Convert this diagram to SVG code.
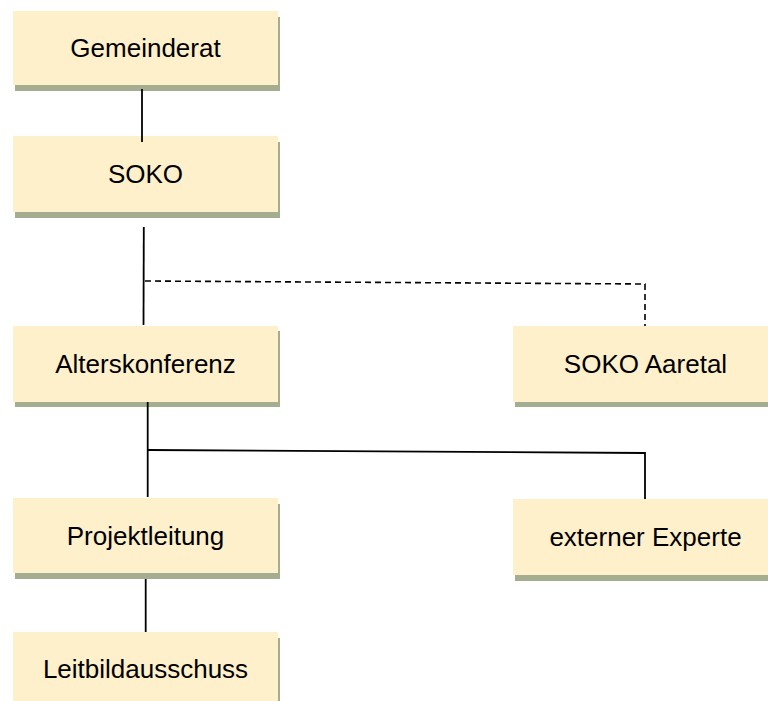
<svg xmlns="http://www.w3.org/2000/svg" width="768" height="701" viewBox="0 0 768 701">
<style>
.shadow{fill:#a4ad90}
.box{fill:#fff0cc}
.lbl{font-family:"Liberation Sans",Arial,sans-serif;font-size:26px;fill:#000;text-anchor:middle}
.ln{stroke:#000;stroke-width:1.8;fill:none}
.dash{stroke:#000;stroke-width:1.6;fill:none;stroke-dasharray:6 4}
</style>
<rect width="768" height="701" fill="#fff"/>
<g id="n-gemeinderat">
<rect class="shadow" x="15" y="17" width="265" height="74"/>
<rect class="box" x="13" y="11" width="265" height="74"/>
<text class="lbl" x="145.5" y="57.3">Gemeinderat</text>
</g>
<g id="n-soko">
<rect class="shadow" x="15" y="142" width="265" height="76"/>
<rect class="box" x="13" y="136" width="265" height="76"/>
<text class="lbl" x="145.5" y="183.3">SOKO</text>
</g>
<g id="n-alterskonferenz">
<rect class="shadow" x="15" y="331" width="265" height="76"/>
<rect class="box" x="13" y="326" width="265" height="76"/>
<text class="lbl" x="145.5" y="373.3">Alterskonferenz</text>
</g>
<g id="n-soko-aaretal">
<rect class="shadow" x="515" y="331" width="265" height="76"/>
<rect class="box" x="513" y="326" width="265" height="76"/>
<text class="lbl" x="645.5" y="372.5">SOKO Aaretal</text>
</g>
<g id="n-projektleitung">
<rect class="shadow" x="15" y="504" width="265" height="75"/>
<rect class="box" x="13" y="498" width="265" height="75"/>
<text class="lbl" x="145.5" y="545">Projektleitung</text>
</g>
<g id="n-externer-experte">
<rect class="shadow" x="515" y="505" width="265" height="76"/>
<rect class="box" x="513" y="499" width="265" height="76"/>
<text class="lbl" x="645.5" y="546">externer Experte</text>
</g>
<g id="n-leitbildausschuss">
<rect class="shadow" x="15" y="638" width="265" height="76"/>
<rect class="box" x="13" y="632" width="265" height="76"/>
<text class="lbl" x="145.5" y="678">Leitbildausschuss</text>
</g>
<g id="connectors">
<line class="ln" x1="142" y1="89" x2="142" y2="142"/>
<line class="ln" x1="143.8" y1="227" x2="143.5" y2="325"/>
<polyline class="dash" points="145,281 645,284 645,326"/>
<line class="ln" x1="147.7" y1="402" x2="147.7" y2="497"/>
<polyline class="ln" points="148,450 645,453 645,499"/>
<line class="ln" x1="145.7" y1="579" x2="145.7" y2="632"/>
</g>
</svg>
